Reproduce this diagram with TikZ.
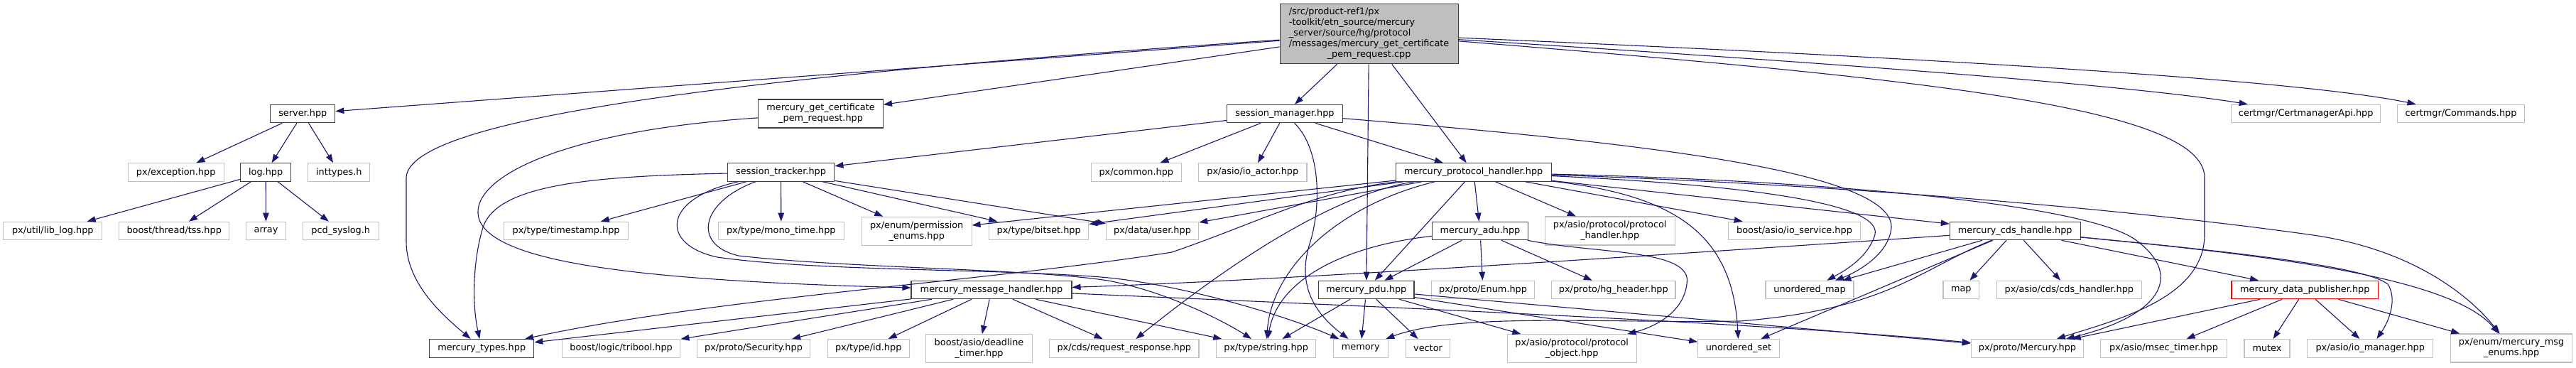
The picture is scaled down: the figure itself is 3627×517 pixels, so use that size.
\documentclass[tikz,border=0pt]{standalone}
\usepackage{fontspec}
\setmainfont{DejaVu Sans}
\usetikzlibrary{arrows.meta}
\definecolor{edgeblue}{HTML}{191970}
\definecolor{extgray}{HTML}{BFBFBF}
\definecolor{hdrgray}{HTML}{404040}

\begin{document}
\begin{tikzpicture}[x=1pt, y=-1pt,
  >={Triangle[length=12pt,width=8.5pt]},
  every node/.style={font=\fontsize{12.85}{15}\selectfont, inner sep=2pt,
    minimum height=25.5pt, fill=white, line width=1.1pt},
  ext/.style={draw=extgray},
  hdr/.style={draw=hdrgray},
  trunc/.style={draw=red},
  twoline/.style={align=center, minimum height=40pt},
  rootfile/.style={draw=hdrgray, fill=extgray},
  dep/.style={->, draw=edgeblue, line width=1.1pt}]
  \fill[white] (0,0) rectangle (3627,517);
  \useasboundingbox (0,0) rectangle (3627,517);

  % the source file
  \node[rootfile, minimum width=251pt, minimum height=84pt] (root) at (1927.6,47.8)
    {\begin{tabular}{@{}l@{}}/src/product-ref1/px\\-toolkit/etn\_source/mercury\\\_server/source/hg/protocol\\/messages/mercury\_get\_certificate\\\multicolumn{1}{@{}c@{}}{\_pem\_request.cpp}\end{tabular}};

  % first level
  \node[hdr, minimum width=91pt] (server) at (426.3,160) {server.hpp};
  \node[hdr, twoline, minimum width=175.7pt] (getcert) at (1155.6,160) {mercury\_get\_certificate\\\_pem\_request.hpp};
  \node[hdr, minimum width=162.3pt] (smgr) at (1809,160) {session\_manager.hpp};
  \node[ext, minimum width=210.4pt] (certapi) at (3246.7,160) {certmgr/CertmanagerApi.hpp};
  \node[ext, minimum width=178.4pt] (commands) at (3465,160) {certmgr/Commands.hpp};

  % second level
  \node[ext, minimum width=134.8pt] (exception) at (247.7,242.5) {px/exception.hpp};
  \node[hdr, minimum width=70.7pt] (log) at (374.2,242.5) {log.hpp};
  \node[ext, minimum width=87pt] (inttypes) at (477.3,242.5) {inttypes.h};
  \node[hdr, minimum width=150.6pt] (stracker) at (1099.6,242.5) {session\_tracker.hpp};
  \node[ext, minimum width=126.6pt] (common) at (1599.8,242.5) {px/common.hpp};
  \node[ext, minimum width=152.3pt] (ioactor) at (1763.8,242.5) {px/asio/io\_actor.hpp};
  \node[hdr, minimum width=218.7pt] (ph) at (2074.7,242.5) {mercury\_protocol\_handler.hpp};

  % third level
  \node[ext, minimum width=139.2pt] (liblog) at (74.3,325) {px/util/lib\_log.hpp};
  \node[ext, minimum width=155pt] (tss) at (245.2,325) {boost/thread/tss.hpp};
  \node[ext, minimum width=56.1pt] (array) at (374.5,325) {array};
  \node[ext, minimum width=107.1pt] (syslog) at (479.8,325) {pcd\_syslog.h};
  \node[ext, minimum width=174.5pt] (timestamp) at (797.1,325) {px/type/timestamp.hpp};
  \node[ext, minimum width=177.2pt] (monotime) at (1099.8,325) {px/type/mono\_time.hpp};
  \node[ext, twoline, minimum width=154.7pt] (permenums) at (1290.7,325.2) {px/enum/permission\\\_enums.hpp};
  \node[ext, minimum width=140pt] (bitset) at (1462.7,325) {px/type/bitset.hpp};
  \node[ext, minimum width=130.4pt] (user) at (1622.5,325) {px/data/user.hpp};
  \node[hdr, minimum width=134.6pt] (adu) at (2084,325) {mercury\_adu.hpp};
  \node[ext, twoline, minimum width=182.7pt] (protohandler) at (2266.7,325) {px/asio/protocol/protocol\\\_handler.hpp};
  \node[ext, minimum width=186.4pt] (ioservice) at (2526.5,325) {boost/asio/io\_service.hpp};
  \node[hdr, minimum width=183.7pt] (cds) at (2837.2,325) {mercury\_cds\_handle.hpp};

  % fourth level
  \node[hdr, minimum width=226pt] (mh) at (1396,408) {mercury\_message\_handler.hpp};
  \node[hdr, minimum width=134.3pt] (pdu) at (1923.8,408) {mercury\_pdu.hpp};
  \node[ext, minimum width=145.4pt] (enum) at (2088,408) {px/proto/Enum.hpp};
  \node[ext, minimum width=174.3pt] (hgheader) at (2271.8,408) {px/proto/hg\_header.hpp};
  \node[ext, minimum width=124pt] (umap) at (2548,408) {unordered\_map};
  \node[ext, minimum width=50.7pt] (map) at (2761.3,408) {map};
  \node[ext, minimum width=204pt] (cdshandler) at (2913.3,408) {px/asio/cds/cds\_handler.hpp};
  \node[trunc, minimum width=206.7pt] (datapub) at (3245.3,408) {mercury\_data\_publisher.hpp};

  % bottom level
  \node[hdr, minimum width=147.1pt] (types) at (678.2,490.3) {mercury\_types.hpp};
  \node[ext, minimum width=166.6pt] (tribool) at (874.6,490.3) {boost/logic/tribool.hpp};
  \node[ext, minimum width=158.3pt] (security) at (1061,490.3) {px/proto/Security.hpp};
  \node[ext, minimum width=114.7pt] (id) at (1222.7,490.3) {px/type/id.hpp};
  \node[ext, twoline, minimum width=149.6pt] (deadline) at (1378.5,490.7) {boost/asio/deadline\\\_timer.hpp};
  \node[ext, minimum width=210.4pt] (reqresp) at (1582.8,490.3) {px/cds/request\_response.hpp};
  \node[ext, minimum width=140pt] (string) at (1782.7,490.3) {px/type/string.hpp};
  \node[ext, minimum width=77pt] (memory) at (1915.8,490.3) {memory};
  \node[ext, minimum width=62.4pt] (vector) at (2010.5,490.3) {vector};
  \node[ext, twoline, minimum width=182.3pt] (protoobject) at (2213.2,490.7) {px/asio/protocol/protocol\\\_object.hpp};
  \node[ext, minimum width=114.6pt] (uset) at (2448,490.3) {unordered\_set};
  \node[ext, minimum width=158.4pt] (mercury) at (2854.5,490.3) {px/proto/Mercury.hpp};
  \node[ext, minimum width=177.6pt] (msectimer) at (3046.5,490.3) {px/asio/msec\_timer.hpp};
  \node[ext, minimum width=64pt] (mutex) at (3192,490.3) {mutex};
  \node[ext, minimum width=177.1pt] (iomanager) at (3337.2,490.3) {px/asio/io\_manager.hpp};
  \node[ext, twoline, minimum width=171.6pt] (msgenums) at (3536,490) {px/enum/mercury\_msg\\\_enums.hpp};

  % includes of the source file
  \draw[dep] (root) -- (server);
  \draw[dep] (root) .. controls (1000,110) and (575,170) .. (572,250) -- (572,340) .. controls (572,400) and (625,445) .. (types);
  \draw[dep] (root) -- (getcert); \draw[dep] (root) -- (smgr);
  \draw[dep] (root) -- (pdu); \draw[dep] (root) -- (ph);
  \draw[dep] (root) .. controls (2600,90) and (3000,120) .. (certapi);
  \draw[dep] (root) .. controls (2800,85) and (3250,115) .. (commands);
  \draw[dep] (root) .. controls (2700,110) and (3104,150) .. (3104,250) -- (3104,330) .. controls (3104,420) and (2980,450) .. (mercury);

  % server.hpp and log.hpp
  \draw[dep] (server) -- (exception); \draw[dep] (server) -- (log); \draw[dep] (server) -- (inttypes);
  \draw[dep] (log) -- (liblog); \draw[dep] (log) -- (tss);
  \draw[dep] (log) -- (array); \draw[dep] (log) -- (syslog);

  % mercury_get_certificate_pem_request.hpp
  \draw[dep] (getcert) .. controls (780,185) and (655,255) .. (675,310) .. controls (700,370) and (900,395) .. (mh);

  % session_manager.hpp
  \draw[dep] (smgr) -- (stracker); \draw[dep] (smgr) -- (common);
  \draw[dep] (smgr) -- (ioactor); \draw[dep] (smgr) -- (ph);
  \draw[dep] (smgr) .. controls (1860,210) and (1860,290) .. (1845,340) .. controls (1825,400) and (1850,440) .. (memory);
  \draw[dep] (smgr) .. controls (2300,200) and (2665,240) .. (2663,320) .. controls (2660,360) and (2610,385) .. (umap);

  % session_tracker.hpp
  \draw[dep] (stracker) .. controls (830,248) and (700,260) .. (680,320) .. controls (665,370) and (665,430) .. (types);
  \draw[dep] (stracker) -- (timestamp); \draw[dep] (stracker) -- (monotime);
  \draw[dep] (stracker) -- (permenums); \draw[dep] (stracker) -- (bitset); \draw[dep] (stracker) -- (user);
  \draw[dep] (stracker) .. controls (930,280) and (930,345) .. (1010,362) .. controls (1150,382) and (1400,378) .. (1550,390) .. controls (1650,398) and (1800,440) .. (memory);
  \draw[dep] (stracker) .. controls (985,285) and (975,345) .. (1040,360) .. controls (1200,378) and (1450,378) .. (1560,395) .. controls (1640,410) and (1720,450) .. (string);

  % mercury_protocol_handler.hpp
  \draw[dep] (ph) -- (permenums); \draw[dep] (ph) -- (bitset); \draw[dep] (ph) -- (user);
  \draw[dep] (ph) .. controls (1850,270) and (1780,310) .. (1650,355) .. controls (1400,395) and (1000,420) .. (types);
  \draw[dep] (ph) .. controls (1870,275) and (1720,380) .. (reqresp);
  \draw[dep] (ph) .. controls (1880,290) and (1790,380) .. (string);
  \draw[dep] (ph) -- (pdu); \draw[dep] (ph) -- (adu);
  \draw[dep] (ph) -- (protohandler); \draw[dep] (ph) -- (ioservice);
  \draw[dep] (ph) .. controls (2450,260) and (2650,285) .. (2640,330) .. controls (2630,365) and (2590,385) .. (umap);
  \draw[dep] (ph) -- (cds);
  \draw[dep] (ph) .. controls (2360,275) and (2440,330) .. (uset);
  \draw[dep] (ph) .. controls (2600,255) and (2950,290) .. (3010,340) .. controls (3075,390) and (3040,445) .. (mercury);
  \draw[dep] (ph) .. controls (2600,260) and (3000,295) .. (3250,330) .. controls (3400,350) and (3480,420) .. (msgenums);

  % mercury_message_handler.hpp
  \draw[dep] (mh) -- (types); \draw[dep] (mh) -- (tribool); \draw[dep] (mh) -- (security);
  \draw[dep] (mh) -- (id); \draw[dep] (mh) -- (deadline); \draw[dep] (mh) -- (reqresp);
  \draw[dep] (mh) -- (string);
  \draw[dep] (mh) .. controls (1900,430) and (2500,455) .. (mercury);

  % mercury_adu.hpp
  \draw[dep] (adu) -- (pdu); \draw[dep] (adu) -- (enum); \draw[dep] (adu) -- (hgheader);
  \draw[dep] (adu) .. controls (2250,358) and (2385,350) .. (2375,400) .. controls (2370,440) and (2330,460) .. (protoobject);
  \draw[dep] (adu) .. controls (1900,345) and (1800,390) .. (string);

  % mercury_pdu.hpp
  \draw[dep] (pdu) -- (string); \draw[dep] (pdu) -- (memory); \draw[dep] (pdu) -- (vector);
  \draw[dep] (pdu) -- (protoobject); \draw[dep] (pdu) -- (uset); \draw[dep] (pdu) -- (mercury);

  % mercury_cds_handle.hpp
  \draw[dep] (cds) .. controls (2400,355) and (1800,395) .. (mh);
  \draw[dep] (cds) -- (umap);
  \draw[dep] (cds) .. controls (2700,380) and (2660,435) .. (2450,452) .. controls (2250,455) and (2050,440) .. (memory);
  \draw[dep] (cds) -- (uset); \draw[dep] (cds) -- (map);
  \draw[dep] (cds) -- (cdshandler); \draw[dep] (cds) -- (datapub);
  \draw[dep] (cds) .. controls (3150,355) and (3330,375) .. (3362,400) .. controls (3375,420) and (3365,450) .. (iomanager);
  \draw[dep] (cds) .. controls (3200,360) and (3450,390) .. (msgenums);

  % mercury_data_publisher.hpp
  \draw[dep] (datapub) -- (mercury); \draw[dep] (datapub) -- (msectimer);
  \draw[dep] (datapub) -- (mutex); \draw[dep] (datapub) -- (iomanager);
  \draw[dep] (datapub) -- (msgenums);
\end{tikzpicture}
\end{document}
